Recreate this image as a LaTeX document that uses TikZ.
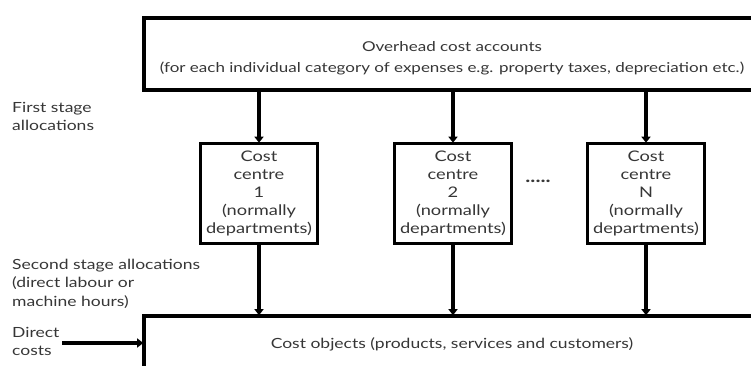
\documentclass[tikz,border=0pt]{standalone}
\usepackage{fontspec}
\setmainfont{Lato}[FakeStretch=1.25]
\usetikzlibrary{arrows.meta}
\definecolor{ink}{HTML}{363636}
\tikzset{
  box/.style={draw=black, line width=3.6pt, fill=white, text=ink, align=center, inner sep=0pt},
  centrebox/.style={box, minimum width=117pt, minimum height=100pt,
    font=\fontsize{14.6}{17.8}\selectfont},
  plaintext/.style={text=ink, align=center, inner sep=0pt},
  flow/.style={line width=3.4pt, -{Triangle[width=9pt,length=6pt]}, shorten >=-1pt},
  sidelabel/.style={anchor=north west, align=left, text=ink, inner sep=0pt,
    font=\fontsize{14}{18.3}\selectfont}
}
\begin{document}
\begin{tikzpicture}[x=1pt, y=-1pt]
  \useasboundingbox (0,0) rectangle (751,365);

  % overhead cost accounts (runs past the right edge)
  \node[box, minimum width=616pt, minimum height=72pt] (overhead) at (452,54) {};
  \node[plaintext, font=\fontsize{13.6}{21}\selectfont] (overheadtext) at (452,58)
    {Overhead cost accounts\\(for each individual category of expenses e.g. property taxes, depreciation etc.)};

  % cost centres
  \node[centrebox] (cc1) at (259,193.5) {Cost\\centre\\1\\(normally\\departments)};
  \node[centrebox] (cc2) at (453,193.5) {Cost\\centre\\2\\(normally\\departments)};
  \node[centrebox] (cc3) at (646,193.5) {Cost\\centre\\N\\(normally\\departments)};
  \node[plaintext, font=\fontsize{17}{18}\selectfont\bfseries] (dots) at (538,181) {.....};

  % cost objects (runs past the right and bottom edges)
  \node[box, minimum width=616pt, minimum height=56pt,
        font=\fontsize{14}{16}\selectfont] (objects) at (452,344)
    {Cost objects (products, services and customers)};

  % first stage allocations
  \foreach \c in {cc1,cc2,cc3}
    \draw[flow] (overhead.south -| \c.north) -- (\c.north);
  % second stage allocations
  \foreach \c in {cc1,cc2,cc3}
    \draw[flow] (\c.south) -- (objects.north -| \c.south);

  % direct costs
  \coordinate (dc) at (62,343);
  \draw[flow] (dc) -- (objects.west |- dc);

  % side labels
  \node[sidelabel] (first) at (12,102) {First stage\\allocations};
  \node[sidelabel] (second) at (12,259) {Second stage allocations\\(direct labour or\\machine hours)};
  \node[sidelabel] (direct) at (12,327) {Direct\\costs};
\end{tikzpicture}
\end{document}
